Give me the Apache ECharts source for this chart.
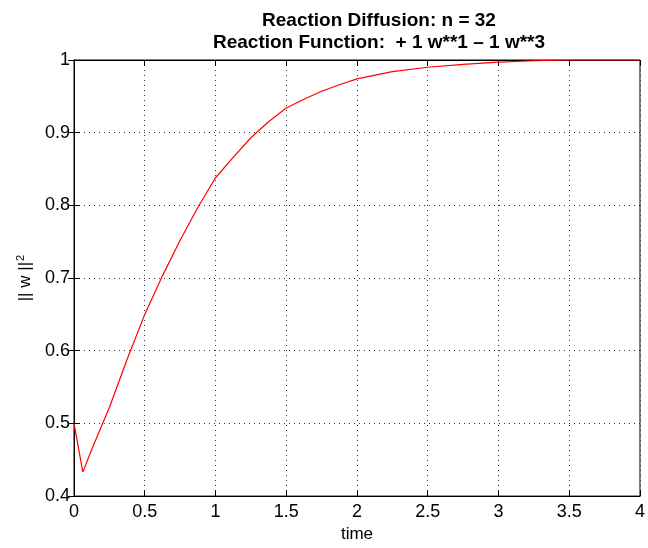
<!DOCTYPE html>
<html>
<head>
<meta charset="utf-8">
<script src="https://cdn.jsdelivr.net/npm/echarts@6/dist/echarts.min.js"></script>
<style>
  html, body { margin: 0; padding: 0; background: #fff; }
  #chart { width: 648px; height: 548px; }
</style>
</head>
<body>
<div id="chart"></div>
<script>
// values
var times = [0, 0.0625, 0.125, 0.25, 0.375, 0.5, 0.625, 0.75, 0.875, 1.0,
  1.125, 1.25, 1.375, 1.5, 1.625, 1.75, 1.875, 2.0, 2.25, 2.5,
  2.75, 3.0, 3.25, 3.5, 3.75, 4.0];
var normW = [0.5, 0.433, 0.464, 0.522, 0.588, 0.650, 0.703, 0.752, 0.797, 0.838,
  0.866, 0.893, 0.915, 0.934, 0.946, 0.957, 0.966, 0.974, 0.984, 0.990,
  0.994, 0.997, 0.999, 1.0, 1.0, 1.0];
var xTicks = [0, 0.5, 1, 1.5, 2, 2.5, 3, 3.5, 4];
var yTicks = [0.4, 0.5, 0.6, 0.7, 0.8, 0.9, 1];

var font = 'Liberation Sans, Arial, Helvetica, sans-serif';

var points = times.map(function (t, i) { return [t, normW[i]]; });

var chart = echarts.init(document.getElementById('chart'));

var dotted = { show: true, lineStyle: { color: '#333', type: [1, 4], width: 1 } };
var blackLine = { show: true, lineStyle: { color: '#000' } };
var inTick = { show: true, inside: true, length: 6, lineStyle: { color: '#000' } };

chart.setOption({
  animation: false,
  backgroundColor: '#fff',
  title: {
    text: 'Reaction Diffusion: n = 32\nReaction Function:  + 1 w**1 \u2013 1 w**3',
    left: 374,
    top: 5,
    textAlign: 'center',
    textStyle: { fontFamily: font, fontWeight: 'bold', fontSize: 19, lineHeight: 22, color: '#000' }
  },
  grid: {
    left: 74, right: 7, top: 60, bottom: 50,
    show: true, borderColor: '#000', borderWidth: 1
  },
  xAxis: [{
    type: 'value',
    min: xTicks[0], max: xTicks[xTicks.length - 1], interval: 0.5,
    name: 'time', nameLocation: 'middle', nameGap: 28,
    nameTextStyle: { fontFamily: font, fontSize: 17, color: '#000' },
    axisLine: blackLine,
    axisTick: inTick,
    axisLabel: { fontFamily: font, fontSize: 18, color: '#000', margin: 7 },
    splitLine: dotted
  }, {
    type: 'value', position: 'top',
    min: xTicks[0], max: xTicks[xTicks.length - 1], interval: 0.5,
    axisLine: blackLine,
    axisTick: inTick,
    axisLabel: { show: false },
    splitLine: { show: false }
  }],
  yAxis: [{
    type: 'value',
    min: yTicks[0], max: yTicks[yTicks.length - 1], interval: 0.1,
    name: '{a||| w ||}{s|2}', nameLocation: 'middle', nameGap: 28, nameRotate: 90,
    nameTextStyle: {
      fontFamily: font, fontSize: 17, color: '#000',
      rich: {
        a: { fontFamily: font, fontSize: 17, color: '#000' },
        s: { fontFamily: font, fontSize: 11, color: '#000', padding: [0, 0, 10, 1] }
      }
    },
    axisLine: blackLine,
    axisTick: inTick,
    axisLabel: {
      fontFamily: font, fontSize: 18, color: '#000', margin: 4,
      formatter: function (v) { return String(Math.round(v * 10) / 10); }
    },
    splitLine: dotted
  }, {
    type: 'value', position: 'right',
    min: yTicks[0], max: yTicks[yTicks.length - 1], interval: 0.1,
    axisLine: blackLine,
    axisTick: inTick,
    axisLabel: { show: false },
    splitLine: { show: false }
  }],
  series: [{
    type: 'line',
    data: points,
    showSymbol: false,
    lineStyle: { color: '#ff0000', width: 1.2 },
    itemStyle: { color: '#ff0000' }
  }]
});
</script>
</body>
</html>
